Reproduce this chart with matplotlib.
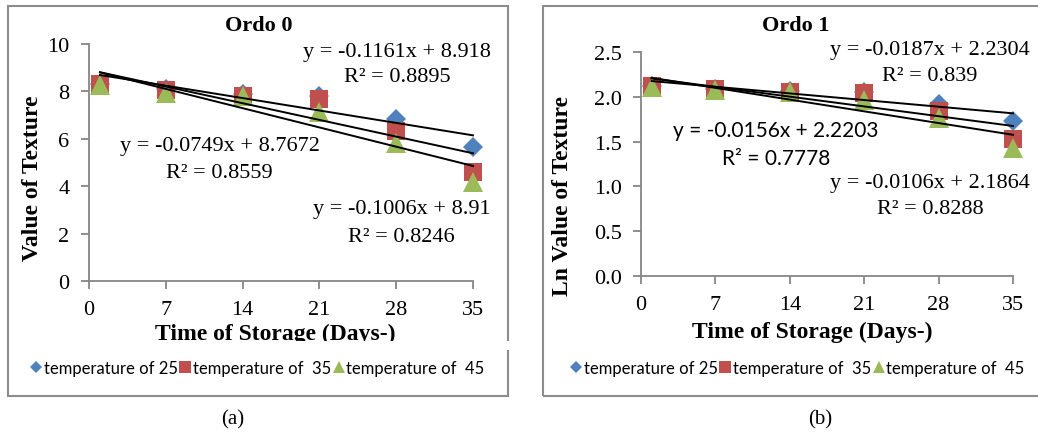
import matplotlib.pyplot as plt
from matplotlib.lines import Line2D
from matplotlib.patches import Rectangle
from matplotlib.ticker import FormatStrFormatter

# data
days = [1, 7, 14, 21, 28, 35]
series_names = ["temperature of 25", "temperature of  35", "temperature of  45"]

ordo0_t25 = [8.30, 8.10, 7.90, 7.80, 6.85, 5.65]
ordo0_t35 = [8.31, 8.06, 7.80, 7.68, 6.33, 4.60]
ordo0_t45 = [8.27, 7.93, 7.80, 7.13, 5.82, 4.18]

ordo1_t25 = [2.116, 2.092, 2.067, 2.054, 1.924, 1.732]
ordo1_t35 = [2.117, 2.087, 2.054, 2.039, 1.845, 1.526]
ordo1_t45 = [2.113, 2.071, 2.054, 1.964, 1.761, 1.430]

# trend lines (slope, intercept) per series
ordo0_slopes = [-0.0749, -0.1006, -0.1161]
ordo0_intercepts = [8.7672, 8.91, 8.918]
ordo1_slopes = [-0.0106, -0.0156, -0.0187]
ordo1_intercepts = [2.1864, 2.2203, 2.2304]

colors = ["#4F81BD", "#C0504D", "#9BBB59"]
markers = ["D", "s", "^"]
msizes = [10, 13, 15]

W, H = 1038, 435
fig = plt.figure(figsize=(W / 100, H / 100), dpi=100)
serif = "Liberation Serif"
sans = "Lato"


def fx(x):
    return x / W


def fy(y):
    return 1 - y / H


def draw_panel(ax, series, slopes, intercepts, ylim, yticks, fmt):
    for vals, c, m, ms in zip(series, colors, markers, msizes):
        ax.plot(days, vals, linestyle="none", marker=m, color=c, ms=ms,
                markeredgewidth=0, clip_on=False, zorder=3)
    for a, b in zip(slopes, intercepts):
        xs = [days[0], days[-1]]
        ax.plot(xs, [a * x + b for x in xs], color="black", lw=1.4,
                clip_on=False, zorder=4)
    ax.set_xlim(0, 35)
    ax.set_ylim(*ylim)
    ax.set_xticks([0, 7, 14, 21, 28, 35])
    ax.set_yticks(yticks)
    ax.yaxis.set_major_formatter(FormatStrFormatter(fmt))
    for s in ["top", "right"]:
        ax.spines[s].set_visible(False)
    for s in ["left", "bottom"]:
        ax.spines[s].set_color("#868686")
        ax.spines[s].set_linewidth(1.3)
    ax.tick_params(direction="out", length=6, width=1.3, color="#868686",
                   labelsize=16, pad=8)
    for lab in ax.get_xticklabels() + ax.get_yticklabels():
        lab.set_fontfamily(serif)
    ax.patch.set_alpha(0)


# panel frames
for x0 in [8, 543]:
    fig.patches.append(Rectangle((fx(x0), fy(397)), fx(500), 390 / H,
                                 transform=fig.transFigure, fill=False,
                                 ec="#8c8c8c", lw=1.5))

ax0 = fig.add_axes([fx(89), fy(282), 384 / W, 237 / H])
draw_panel(ax0, [ordo0_t25, ordo0_t35, ordo0_t45], ordo0_slopes,
           ordo0_intercepts, (0, 10), [0, 2, 4, 6, 8, 10], "%d")

ax1 = fig.add_axes([fx(641), fy(277), 372 / W, 224 / H])
draw_panel(ax1, [ordo1_t25, ordo1_t35, ordo1_t45], ordo1_slopes,
           ordo1_intercepts, (0, 2.5), [0, 0.5, 1.0, 1.5, 2.0, 2.5], "%.1f")

# trend line labels
eq = dict(ha="center", va="center", fontsize=16, family=serif, zorder=5)
ax0.text(28.1, 9.70, "y = -0.1161x + 8.918", **eq)
ax0.text(28.1, 8.61, "R² = 0.8895", **eq)
ax0.text(11.9, 5.70, "y = -0.0749x + 8.7672", **eq)
ax0.text(11.9, 4.56, "R² = 0.8559", **eq)
ax0.text(28.5, 3.04, "y = -0.1006x + 8.91", **eq)
ax0.text(28.5, 1.86, "R² = 0.8246", **eq)

ax1.text(27.2, 2.533, "y = -0.0187x + 2.2304", **eq)
ax1.text(27.2, 2.243, "R² = 0.839", **eq)
ax1.text(12.7, 1.63, "y = -0.0156x + 2.2203", ha="center", va="center",
         fontsize=15, family=sans, zorder=5)
ax1.text(12.7, 1.317, "R² = 0.7778", ha="center", va="center",
         fontsize=15, family=sans, zorder=5)
ax1.text(27.2, 1.049, "y = -0.0106x + 2.1864", **eq)
ax1.text(27.2, 0.748, "R² = 0.8288", **eq)

# titles and axis labels
fig.text(fx(259), fy(26), "Ordo 0", ha="center", va="center", fontsize=16,
         fontweight="bold", family=serif)
fig.text(fx(796), fy(26), "Ordo 1", ha="center", va="center", fontsize=16,
         fontweight="bold", family=serif)
fig.text(fx(33), fy(178), "Value of Texture", rotation=90, ha="center",
         va="center", fontsize=17, fontweight="bold", family=serif)
fig.text(fx(563), fy(196), "Ln Value of Texture", rotation=90, ha="center",
         va="center", fontsize=17, fontweight="bold", family=serif)
fig.text(fx(275), fy(334), "Time of Storage (Days-)", ha="center",
         va="center", fontsize=17, fontweight="bold", family=serif)
fig.text(fx(812), fy(332), "Time of Storage (Days-)", ha="center",
         va="center", fontsize=17, fontweight="bold", family=serif)

# the left x label is cut off at the bottom in the original
fig.patches.append(Rectangle((fx(120), fy(351)), 392 / W, 9 / H,
                             transform=fig.transFigure, fc="white",
                             ec="none", zorder=10))

# legends
handles = [Line2D([], [], linestyle="none", marker=m, color=c, ms=s,
                  markeredgewidth=0)
           for c, m, s in zip(colors, markers, [6, 8, 9])]
for cx in [258, 798]:
    fig.legend(handles, series_names, loc="center",
               bbox_to_anchor=(fx(cx), fy(369)), ncol=3, frameon=False,
               handlelength=0.6, handletextpad=0.15, columnspacing=0.15,
               prop={"family": sans, "size": 12})

fig.text(fx(233), fy(420), "(a)", ha="center", va="center", fontsize=15,
         family=serif)
fig.text(fx(820), fy(420), "(b)", ha="center", va="center", fontsize=15,
         family=serif)

fig.savefig("out.png", dpi=100)
